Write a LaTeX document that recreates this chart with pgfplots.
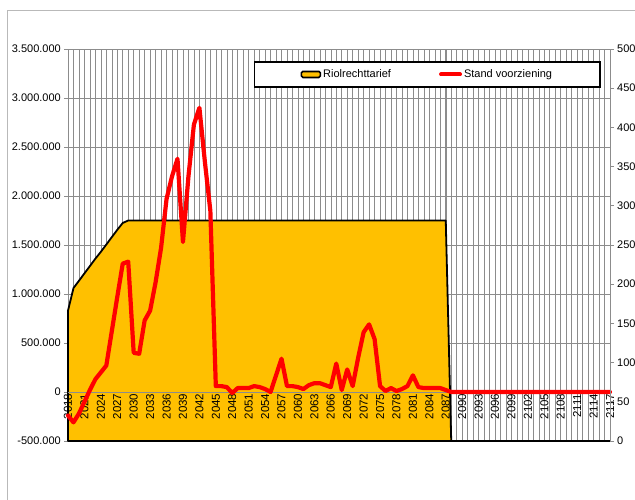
\documentclass[border=0pt]{standalone}
\usepackage{pgfplots}
\pgfplotsset{compat=1.18}
\usepackage{pgfplotstable}
\usepackage{fontspec}
\setmainfont{Liberation Sans}
\definecolor{gold}{HTML}{FFC000}
\definecolor{gridc}{HTML}{8C8C8C}

\pgfplotsset{
  base/.style={
    at={(68pt,59pt)}, anchor=south west,
    width=542pt, height=392pt, scale only axis,
    xmin=2018, xmax=2117,
    clip=false,
  },
}

\pgfplotstableread{
year tarief
2018 -500000
2018 830000
2019 1060000
2020 1135000
2021 1210000
2022 1285000
2023 1360000
2024 1430000
2025 1505000
2026 1580000
2027 1655000
2028 1725000
2029 1750000
2087 1750000
2088 -500000
2117 -500000
}\tarief

\pgfplotstableread{
year stand
2018 -240000
2019 -310000
2020 -220000
2021 -100000
2022 20000
2023 130000
2024 200000
2025 270000
2026 620000
2027 970000
2028 1310000
2029 1330000
2030 400000
2031 390000
2032 730000
2033 830000
2034 1120000
2035 1470000
2036 1970000
2037 2200000
2038 2380000
2039 1530000
2040 2200000
2041 2730000
2042 2900000
2043 2350000
2044 1850000
2045 60000
2046 60000
2047 50000
2048 -10000
2049 40000
2050 40000
2051 40000
2052 60000
2053 50000
2054 30000
2055 0
2056 170000
2057 340000
2058 60000
2059 60000
2060 50000
2061 30000
2062 70000
2063 90000
2064 90000
2065 70000
2066 50000
2067 290000
2068 20000
2069 230000
2070 60000
2071 350000
2072 610000
2073 690000
2074 540000
2075 60000
2076 10000
2077 40000
2078 10000
2079 30000
2080 60000
2081 170000
2082 50000
2083 40000
2084 40000
2085 40000
2086 40000
2087 20000
2088 0
2117 0
}\stand

\begin{document}
\fontsize{11}{13}\selectfont
\begin{tikzpicture}
\useasboundingbox (0,0) rectangle (635pt,500pt);
\clip (0,0) rectangle (635pt,500pt);
\draw[gray!55, line width=0.8pt] (7pt,-5pt) -- (7pt,490pt) -- (645pt,490pt);
% axis 1: grid, area, left y axis
\begin{axis}[
  base,
  ymin=-500000, ymax=3500000,
  scaled y ticks=false,
  axis x line*=bottom, axis y line*=left,
  axis line style={gridc, line width=0.6pt},
  xtick={2018,2021,...,2117},
  minor xtick={2018,2019,...,2117},
  xticklabels={},
  xtick style={draw=none},
  minor x tick style={draw=none},
  xmajorgrids, xminorgrids, ymajorgrids,
  grid style={gridc, line width=0.5pt},
  minor grid style={gridc, line width=0.5pt},
  ytick={-500000,0,500000,1000000,1500000,2000000,2500000,3000000,3500000},
  yticklabels={-500.000,0,500.000,1.000.000,1.500.000,2.000.000,2.500.000,3.000.000,3.500.000},
  ytick align=center,
  major tick length=8pt,
  ytick style={gridc, line width=0.6pt},
  yticklabel style={font=\fontsize{11}{13}\selectfont, inner sep=1pt, xshift=-2pt},
]
\addplot[fill=gold, draw=black, line width=1.8pt, line join=round]
  table[x=year,y=tarief] {\tarief} -- cycle;
\end{axis}
% axis 2: zero line with year labels, red line, legend
\begin{axis}[
  base,
  ymin=-500000, ymax=3500000,
  axis y line=none, axis x line*=middle,
  axis line style={gridc, line width=0.6pt},
  xtick={2018,2021,...,2117},
  xtick style={draw=none},
  xticklabel={\pgfmathparse{int(round(\tick))}\pgfmathresult},
  xticklabel style={rotate=90, anchor=east, inner sep=1.5pt, font=\fontsize{11.5}{13}\selectfont},
  legend columns=2,
  legend style={at={(0.663,0.935)}, anchor=center, draw=black, line width=1.8pt,
    inner xsep=46pt, inner ysep=6pt, font=\fontsize{11}{13}\selectfont,
    /tikz/every even column/.append style={column sep=46pt}},
]
\addlegendimage{legend image code/.code={\draw[fill=gold,draw=black,line width=1.6pt,rounded corners=1.5pt] (0pt,-3pt) rectangle (19pt,3pt);}}
\addlegendentry{Riolrechttarief}
\addplot[color=red, line width=4.2pt, line join=round, line cap=round,
  legend image code/.code={\draw[red,line width=4pt,line cap=round] (1pt,0pt) -- (20pt,0pt);}]
  table[x=year,y=stand] {\stand};
\addlegendentry{Stand voorziening}
\end{axis}
% axis 3: right y axis
\begin{axis}[
  base,
  ymin=0, ymax=500,
  axis x line=none, axis y line*=right,
  axis line style={gridc, line width=0.6pt},
  ytick={0,50,...,500},
  ytick align=outside,
  major tick length=4pt,
  ytick style={gridc, line width=0.6pt},
  /pgf/number format/assume math mode=true,
  yticklabel style={font=\fontsize{11}{13}\selectfont, inner sep=1pt, xshift=2pt},
]
\addplot[draw=none] coordinates {(2018,0) (2117,500)};
\end{axis}
\end{tikzpicture}
\end{document}
